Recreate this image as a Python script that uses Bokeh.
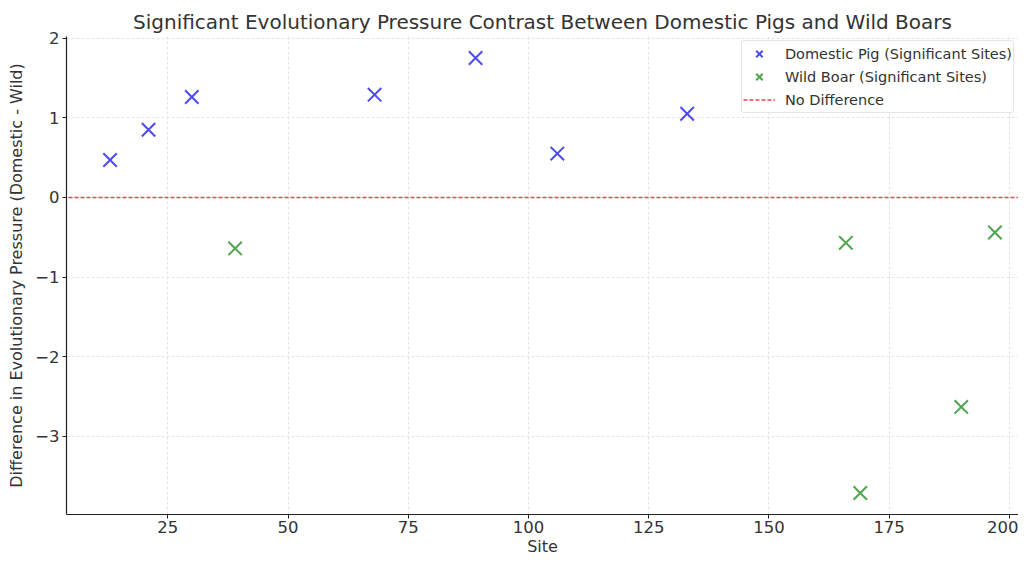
from bokeh.plotting import figure
from bokeh.models import FixedTicker, Legend, LegendItem, ColumnDataSource, Range1d
from bokeh.embed import file_html
from bokeh.resources import INLINE

domestic_sites = [13, 21, 30, 68, 89, 106, 133]
domestic_diff = [0.47, 0.85, 1.26, 1.29, 1.75, 0.55, 1.05]
wild_sites = [39, 166, 169, 190, 197]
wild_diff = [-0.64, -0.57, -3.71, -2.63, -0.44]
x_ticks = [25, 50, 75, 100, 125, 150, 175, 200]
y_ticks = [-3, -2, -1, 0, 1, 2]

FONT = "DejaVu Sans"
TXT = "#333333"

p = figure(width=1018, height=558, output_backend="svg", toolbar_location=None,
           x_range=Range1d(3.94, 201.9), y_range=Range1d(-3.98, 2.02),
           min_border_left=66, min_border_right=0, min_border_top=36, min_border_bottom=39)
p.title.text = "Significant Evolutionary Pressure Contrast Between Domestic Pigs and Wild Boars"
p.title.align = "center"
p.title.text_font = FONT
p.title.text_font_size = "20px"
p.title.text_font_style = "normal"
p.title.text_color = TXT
p.title.offset = 0
p.title.standoff = 5
p.outline_line_color = None

src_d = ColumnDataSource(dict(x=domestic_sites, y=domestic_diff))
src_w = ColumnDataSource(dict(x=wild_sites, y=wild_diff))

zero = p.line(x=[-1000, 1000], y=[0, 0], line_color="#f5404f", line_dash="4 2", line_width=1.6)
r_d = p.scatter("x", "y", source=src_d, marker="x", size=19, line_color="#4b4bf0", line_width=2)
r_w = p.scatter("x", "y", source=src_w, marker="x", size=19, line_color="#4ca64c", line_width=2)

p.xaxis.ticker = FixedTicker(ticks=x_ticks)
p.yaxis.ticker = FixedTicker(ticks=y_ticks)
p.yaxis.major_label_overrides = {t: (str(t).replace("-", "\u2212")) for t in y_ticks}
for ax in (p.xaxis[0], p.yaxis[0]):
    ax.major_label_text_font = FONT
    ax.major_label_text_font_size = "16.5px"
    ax.major_label_text_color = TXT
    ax.axis_label_text_font = FONT
    ax.axis_label_text_font_size = "16px"
    ax.axis_label_text_font_style = "normal"
    ax.axis_label_text_color = TXT
    ax.minor_tick_line_color = None
    ax.major_tick_out = 4
    ax.major_tick_in = 0
    ax.axis_line_color = "#222222"
    ax.axis_line_width = 1.2
    ax.major_tick_line_color = "#222222"
p.xaxis.axis_label = "Site"
p.yaxis.axis_label = "Difference in Evolutionary Pressure (Domestic - Wild)"
p.xaxis.axis_label_standoff = 1
p.yaxis.axis_label_standoff = 6
p.xaxis.major_label_standoff = 2
p.yaxis.major_label_standoff = 3

p.grid.grid_line_color = "#dddddd"
p.grid.grid_line_dash = "3 2"
p.grid.grid_line_width = 0.8

legend = Legend(items=[
    LegendItem(label="Domestic Pig (Significant Sites)", renderers=[r_d]),
    LegendItem(label="Wild Boar (Significant Sites)", renderers=[r_w]),
    LegendItem(label="No Difference", renderers=[zero]),
], location="top_right")
legend.label_text_font = FONT
legend.label_text_font_size = "14.5px"
legend.label_text_color = TXT
legend.border_line_color = "#cccccc"
legend.border_radius = 3
legend.margin = 4
legend.padding = 1
legend.spacing = 0
legend.label_height = 23
legend.glyph_height = 23
legend.glyph_width = 32
legend.label_standoff = 10
p.add_layout(legend)

open("out.html", "w").write(file_html(p, INLINE))
